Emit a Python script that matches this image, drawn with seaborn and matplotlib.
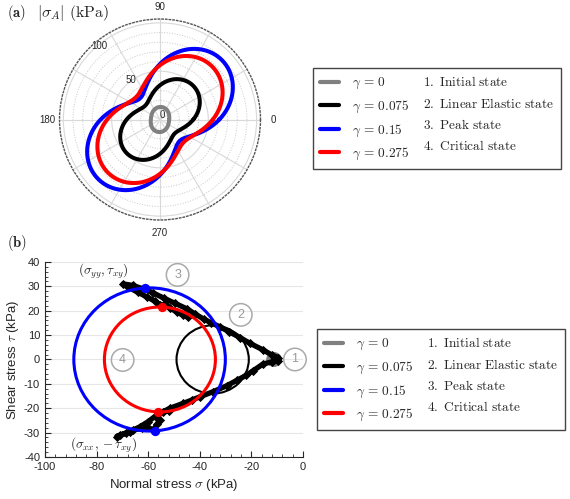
import numpy as np
import matplotlib
matplotlib.use("Agg")
import matplotlib.pyplot as plt
from matplotlib.patches import Circle
from matplotlib.lines import Line2D
import seaborn as sns

# stress states (kPa): sigma_xx, sigma_yy, tau_xy
states = ["gamma0", "gamma0075", "gamma015", "gamma0275"]
state_colors = ["#808080", "#000000", "#0000ff", "#ff0000"]
sigma_xx = [-13.0, -35.5, -57.5, -56.2]
sigma_yy = [-9.5, -34.5, -61.4, -54.7]
tau_xy = [0.4, 14.0, 29.3, 21.5]

gamma_labels = [r"$\gamma\,=\,0$", r"$\gamma\,=\,0.075$", r"$\gamma\,=\,0.15$",
                r"$\gamma\,=\,0.275$"]
state_labels = [r"$\mathrm{1.\ Initial\ state}$", r"$\mathrm{2.\ Linear\ Elastic\ state}$",
                r"$\mathrm{3.\ Peak\ state}$", r"$\mathrm{4.\ Critical\ state}$"]

# loading path (sigma_yy, tau_xy) -- upper branch, out and back
upper_sigma = [-9.5, -12, -15.4, -20.5, -24.4, -28.5, -32.2, -35.5, -38.5, -42, -45,
               -49.5, -54, -58, -62, -66, -69.7,
               -67.7, -64, -60.6, -57.5, -55.4, -53.5, -51.5, -49, -46.5, -44.5]
upper_tau = [0.8, 1.8, 3.9, 6.6, 9.0, 11.3, 13.4, 15.0, 16.6, 18.8, 20.8,
             23.0, 25.2, 27.3, 29.0, 30.4, 31.0,
             29.6, 27.6, 25.7, 24.0, 22.3, 22.6, 21.0, 19.6, 18.2, 17.3]
# loading path (sigma_xx, -tau_xy) -- lower branch, out and back
lower_sigma = [-9.5, -12, -15.4, -19.3, -22, -25.7, -29.6, -34.8, -39.9, -43, -46.4,
               -51.6, -56.7, -60, -63.2, -67.1, -70.9, -72.2,
               -68.5, -65.8, -62.5, -60.6, -58, -56.5, -55.4, -57, -54.1, -52]
lower_tau = [-0.6, -1.0, -1.8, -4.6, -6.5, -8.6, -10.8, -13.2, -15.3, -16.6, -18.0,
             -20.0, -22.8, -25.5, -27.6, -29.6, -31.0, -31.6,
             -30.2, -28.9, -28.3, -27.6, -28.9, -26.5, -24.8, -23.4, -21.4, -21.2]

# circled state numbers
marker_text = ["1", "2", "3", "4"]
marker_sigma = [-3.1, -24.1, -48.6, -69.9]
marker_tau = [0.0, 18.3, 34.7, -0.2]

sns.set_style("white")
plt.rcParams["font.family"] = ["Liberation Sans", "DejaVu Sans"]
plt.rcParams["mathtext.fontset"] = "cm"
plt.rcParams["axes.unicode_minus"] = False

fig = plt.figure(figsize=(5.7, 4.99), dpi=100)

# ---------------- (a) polar plot ----------------
axp = fig.add_axes([0.1044, 0.5591, 0.3526, 0.4028], projection="polar")
theta = np.linspace(0, 2 * np.pi, 721)
for sxx, syy, txy, col in zip(sigma_xx, sigma_yy, tau_xy, state_colors):
    # magnitude of normal stress on a plane at angle theta
    r = (abs(syy) * np.cos(theta) ** 2 + abs(sxx) * np.sin(theta) ** 2
         + 2 * abs(txy) * np.sin(theta) * np.cos(theta))
    sns.lineplot(x=theta, y=r, sort=False, estimator=None, color=col, lw=2.9, ax=axp)
axp.set_ylim(0, 104)
axp.set_yticks([0, 50, 100])
axp.set_yticklabels(["0", "50", "100"], fontsize=7)
axp.set_yticks([10, 20, 30, 40, 60, 70, 80, 90], minor=True)
axp.set_rlabel_position(135)
axp.set_thetagrids(range(0, 360, 30),
                   labels=["0", "", "", "90", "", "", "180", "", "", "270", "", ""], fontsize=7)
axp.grid(True, which="major", color="#d9d9d9", lw=0.8, ls="-")
axp.yaxis.grid(True, which="minor", color="#c8c8c8", lw=0.7, ls=":")
axp.tick_params(axis="x", pad=-1.5)
axp.spines["polar"].set_color("#555555")
axp.spines["polar"].set_linestyle(":")
axp.spines["polar"].set_linewidth(1.0)
axp.set_xlabel("")
axp.set_ylabel("")

fig.text(7 / 570, 1 - 13 / 499, r"$\mathbf{(a)}$", fontsize=10.5, va="center")
fig.text(37 / 570, 1 - 13 / 499, r"$|\sigma_A|\ \mathrm{(kPa)}$", fontsize=11.5, va="center")
fig.text(7 / 570, 1 - 243 / 499, r"$\mathbf{(b)}$", fontsize=10.5, va="center")

# ---------------- (b) Mohr circles ----------------
ax = fig.add_axes([0.0789, 0.0842, 0.4526, 0.3908])
sns.lineplot(x=upper_sigma, y=upper_tau, sort=False, estimator=None, color="black",
             lw=3.8, ax=ax, zorder=2)
sns.lineplot(x=lower_sigma, y=lower_tau, sort=False, estimator=None, color="black",
             lw=3.8, ax=ax, zorder=2)
sns.scatterplot(x=upper_sigma + lower_sigma, y=upper_tau + lower_tau, marker="D", s=22,
                color="black", linewidth=0, ax=ax, zorder=2)

circle_lw = [4.5, 1.5, 2.2, 2.2]
for i, (sxx, syy, txy, col) in enumerate(zip(sigma_xx, sigma_yy, tau_xy, state_colors)):
    centre = (sxx + syy) / 2
    radius = np.hypot((sxx - syy) / 2, txy)
    ax.add_patch(Circle((centre, 0), radius, fill=False, ec=col, lw=circle_lw[i],
                        zorder=1.5 if i == 0 else 3))
    if i >= 2:
        sns.scatterplot(x=[syy, sxx], y=[txy, -txy], color=col, s=45, linewidth=0,
                        ax=ax, zorder=4)

for t, xs, ys in zip(marker_text, marker_sigma, marker_tau):
    ax.text(xs, ys, t, ha="center", va="center", color="#9a9a9a", fontsize=9, clip_on=False,
            bbox=dict(boxstyle="circle,pad=0.42", fc="none", ec="#aaaaaa", lw=1.1), zorder=5)

ax.text(-77.4, 36.0, r"$(\sigma_{yy}, \tau_{xy})$", fontsize=9.5, ha="center", va="center")
ax.text(-77.4, -35.3, r"$(\sigma_{xx}, -\tau_{xy})$", fontsize=9.5, ha="center", va="center")

ax.set_xlim(-100, 0)
ax.set_ylim(-40, 40)
ax.set_xticks(range(-100, 1, 20))
ax.set_xticks(range(-100, 1, 4), minor=True)
ax.set_yticks(range(-40, 41, 10))
ax.set_yticks(range(-40, 41, 2), minor=True)
ax.tick_params(axis="both", which="major", direction="in", length=4, labelsize=8, width=0.8)
ax.tick_params(axis="both", which="minor", direction="in", length=2, width=0.6)
ax.tick_params(axis="x", which="both", bottom=True)
ax.tick_params(axis="y", which="both", left=True)
ax.yaxis.grid(True, color="#e6e6e6", lw=0.8)
ax.xaxis.grid(False)
for side in ["top", "right"]:
    ax.spines[side].set_visible(False)
for side in ["left", "bottom"]:
    ax.spines[side].set_color("#262626")
    ax.spines[side].set_linewidth(0.8)
ax.set_xlabel(r"Normal stress $\sigma$ (kPa)", fontsize=9.5, labelpad=4)
ax.set_ylabel(r"Shear stress $\tau$ (kPa)", fontsize=9.5, labelpad=2)

# ---------------- legends ----------------
handles = [Line2D([], [], color=c, lw=3) for c in state_colors]
blank = [Line2D([], [], color="none") for _ in state_colors]
for anchor in [(313 / 570, 1 - 68 / 499), (317 / 570, 1 - 329 / 499)]:
    fig.legend(handles + blank, gamma_labels + state_labels, ncol=2, loc="upper left",
               bbox_to_anchor=anchor, borderaxespad=0, fontsize=9.6, frameon=True,
               fancybox=False, edgecolor="#444444", framealpha=1, handlelength=1.4,
               handletextpad=1.0, columnspacing=-1.4, labelspacing=0.55, borderpad=0.55)

fig.savefig("out.png", dpi=100)
